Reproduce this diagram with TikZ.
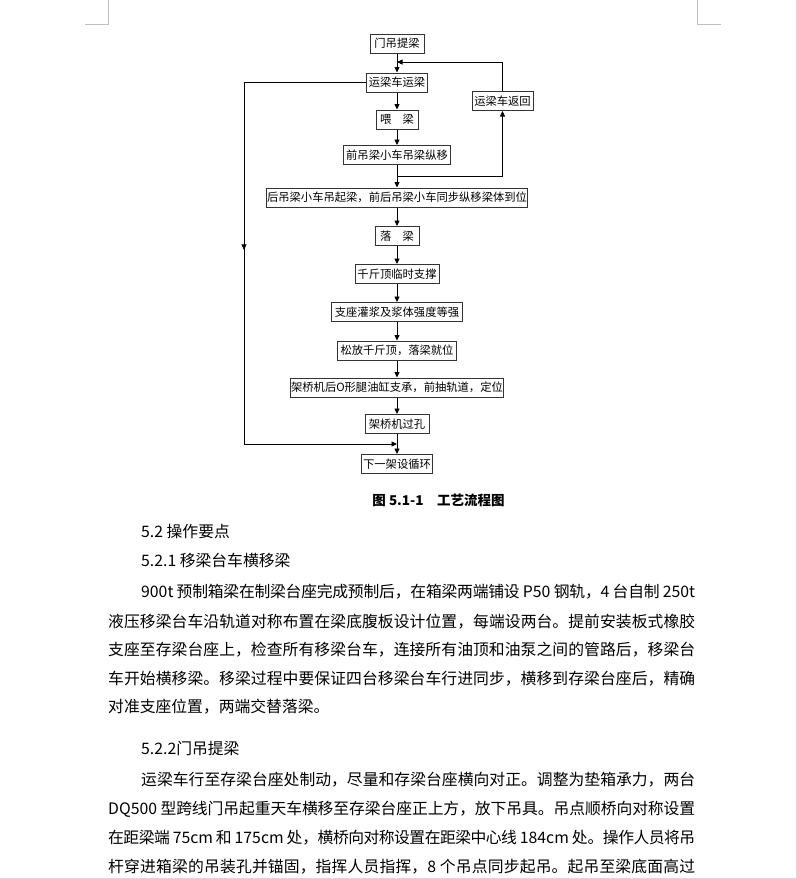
\documentclass[tikz,border=0pt]{standalone}
\usepackage{fontspec}
\setmainfont{Noto Sans CJK SC}
\usetikzlibrary{positioning, arrows.meta, calc}
\XeTeXlinebreaklocale "zh"
\XeTeXlinebreakskip=0pt plus 2pt minus 1pt
\newcommand{\fillline}[1]{{\parfillskip=0pt\relax #1\par}}

\begin{document}
\begin{tikzpicture}[x=1pt, y=-1pt,
            stepbox/.style={draw=black!80, line width=1pt, fill=white, font=\fontsize{11.3}{13}\selectfont, inner xsep=1pt, inner ysep=0pt, minimum height=19pt},
            arrow/.style={-{Triangle[length=5.5pt, width=5pt]}, line width=0.75pt},
            link/.style={line width=0.75pt},
            cropmark/.style={draw=black!25, line width=0.8pt},
            bodyline/.style={anchor=west, inner sep=0pt, font=\fontsize{15.8}{18}\selectfont, align=justify},
            fullline/.style={bodyline, text width=587pt},
            firstline/.style={bodyline, text width=554pt}
        ]
            \fill[white] (0,0) rectangle (797,879);
            \useasboundingbox (0,0) rectangle (797,879);

            % Page marks
            \draw[cropmark] (85,24) -- (108,24) -- (108,0);
            \draw[cropmark] (721,24) -- (697,24) -- (697,0);
            \draw[black!15, line width=0.8pt] (796.5,0) -- (796.5,879);
            \draw[black!15, line width=0.8pt] (0,878.5) -- (797,878.5);

            % Flow chart
            \node[stepbox, minimum width=54pt] at (397,43.5) (lift) {门吊提梁};
            \node[stepbox, minimum width=61pt] at (397,82.5) (haul) {运梁车运梁};
            \node[stepbox, minimum width=42pt] at (397,119.5) (feed) {喂　梁};
            \node[stepbox, minimum width=107pt] at (397,155) (frontmove) {前吊梁小车吊梁纵移};
            \node[stepbox, minimum width=256pt] at (397,197.5) (rearmove) {后吊梁小车吊起梁，前后吊梁小车同步纵移梁体到位};
            \node[stepbox, minimum width=44pt] at (397,236) (lower) {落　梁};
            \node[stepbox, minimum width=84pt] at (397,274) (jack) {千斤顶临时支撑};
            \node[stepbox, minimum width=131pt] at (397,312) (grout) {支座灌浆及浆体强度等强};
            \node[stepbox, minimum width=119pt] at (397,350.5) (release) {松放千斤顶，落梁就位};
            \node[stepbox, minimum width=213pt] at (397,387.5) (support) {架桥机后O形腿油缸支承，前抽轨道，定位};
            \node[stepbox, minimum width=64pt] at (397,424) (advance) {架桥机过孔};
            \node[stepbox, minimum width=71pt] at (397,464) (nextcycle) {下一架设循环};
            \node[stepbox, minimum width=61pt] at (502.5,101) (goback) {运梁车返回};

            % Main arrows
            \draw[arrow] (lift) -- (haul);
            \draw[arrow] (haul) -- (feed);
            \draw[arrow] (feed) -- (frontmove);
            \draw[arrow] (frontmove) -- (rearmove);
            \draw[arrow] (rearmove) -- (lower);
            \draw[arrow] (lower) -- (jack);
            \draw[arrow] (jack) -- (grout);
            \draw[arrow] (grout) -- (release);
            \draw[arrow] (release) -- (support);
            \draw[arrow] (support) -- (advance);
            \draw[arrow] (advance) -- (nextcycle);

            % Return loop
            \coordinate (split) at ($(frontmove.south)!0.5!(rearmove.north)$);
            \coordinate (backin) at ($(lift.south)!0.45!(haul.north)$);
            \draw[arrow] (split) -| (goback.south);
            \draw[arrow] (goback.north) |- (backin);

            % Bypass on the left
            \coordinate (leftbend) at ($(haul.west)+(-122,0)$);
            \coordinate (merge) at ($(advance.south)!0.5!(nextcycle.north)$);
            \draw[link] (haul.west) -- (leftbend);
            \draw[arrow] (leftbend) |- (merge);
            \draw[arrow] (leftbend) -- ($(leftbend)!0.463!(leftbend |- merge)$);

            % Caption
            \node[font=\fontsize{13.5}{15}\selectfont\bfseries] at (438.5,500) (caption) {图 5.1-1\quad 工艺流程图};

            % Text below
            \node[bodyline] at (141,531) (sec52) {5.2 操作要点};
            \node[bodyline] at (141,560) (sec521) {5.2.1 移梁台车横移梁};
            \node[firstline] at (141,592) (pa1) {\fillline{900t 预制箱梁在制梁台座完成预制后，在箱梁两端铺设 P50 钢轨，4 台自制 250t}};
            \node[fullline] at (108,622) (pa2) {\fillline{液压移梁台车沿轨道对称布置在梁底腹板设计位置，每端设两台。提前安装板式橡胶}};
            \node[fullline] at (108,650) (pa3) {\fillline{支座至存梁台座上，检查所有移梁台车，连接所有油顶和油泵之间的管路后，移梁台}};
            \node[fullline] at (108,679) (pa4) {\fillline{车开始横移梁。移梁过程中要保证四台移梁台车行进同步，横移到存梁台座后，精确}};
            \node[bodyline] at (108,707) (pa5) {对准支座位置，两端交替落梁。};
            \node[bodyline] at (141,748) (sec522) {5.2.2门吊提梁};
            \node[firstline] at (141,780) (pb1) {\fillline{运梁车行至存梁台座处制动，尽量和存梁台座横向对正。调整为垫箱承力，两台}};
            \node[fullline] at (108,809) (pb2) {\fillline{DQ500 型跨线门吊起重天车横移至存梁台座正上方，放下吊具。吊点顺桥向对称设置}};
            \node[fullline] at (108,838) (pb3) {\fillline{在距梁端 75cm 和 175cm 处，横桥向对称设置在距梁中心线 184cm 处。操作人员将吊}};
            \node[fullline] at (108,867) (pb4) {\fillline{杆穿进箱梁的吊装孔并锚固，指挥人员指挥，8 个吊点同步起吊。起吊至梁底面高过}};

        \end{tikzpicture}
\end{document}
